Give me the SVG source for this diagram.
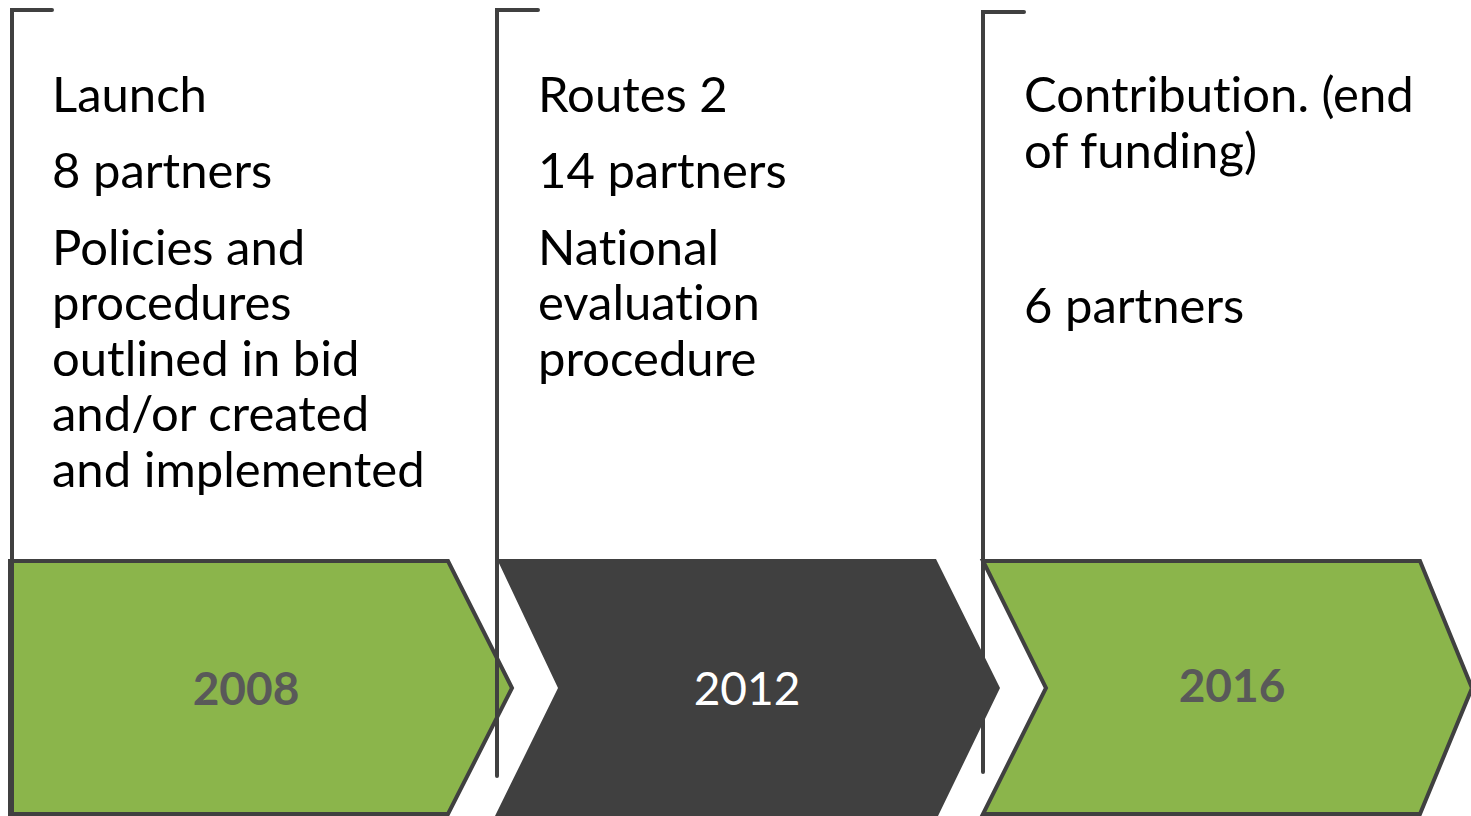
<svg xmlns="http://www.w3.org/2000/svg" width="1471" height="816" viewBox="0 0 1471 816">
<style>
.t{font-family:Lato,"Liberation Sans",sans-serif;font-size:49px;fill:#000;font-variant-ligatures:none}
.y{font-family:Lato,"Liberation Sans",sans-serif;font-size:46px;text-anchor:middle}
.br{fill:none;stroke:#404040;stroke-width:4;stroke-linecap:round}
.g{fill:#8bb54b;stroke:#404040;stroke-width:4;stroke-linejoin:miter}
</style>
<rect width="1471" height="816" fill="#fff"/>
<g id="step2008">
<polygon class="g" points="10,561 448,561 512,688 448,814 10,814"/>
<text class="y" x="246" y="705" font-weight="bold" fill="#595959">2008</text>
</g>
<g id="step2012">
<polygon fill="#404040" points="497,559 936,559 1000,688 938,816 495,816 558,688"/>
<text class="y" x="747" y="705" fill="#fff">2012</text>
</g>
<g id="step2016">
<polygon class="g" points="983,561 1420,561 1472,688 1420,814 983,814 1046,688"/>
<text class="y" x="1232" y="702" font-weight="bold" fill="#595959">2016</text>
</g>
<g id="connectors">
<path class="br" d="M52,10 H12 V818"/>
<path class="br" d="M538,10 H497 V776"/>
<path class="br" d="M1024,12 H983 V772"/>
</g>
<g id="text2008">
<text class="t" x="52" y="112">Launch</text>
<text class="t" x="52" y="188">8 partners</text>
<text class="t" x="52" y="265">Policies and</text>
<text class="t" x="52" y="320">procedures</text>
<text class="t" x="52" y="376">outlined in bid</text>
<text class="t" x="52" y="431">and/or created</text>
<text class="t" x="52" y="487">and implemented</text>
</g>
<g id="text2012">
<text class="t" x="538" y="112">Routes 2</text>
<text class="t" x="538" y="188">14 partners</text>
<text class="t" x="538" y="265">National</text>
<text class="t" x="538" y="320">evaluation</text>
<text class="t" x="538" y="376">procedure</text>
</g>
<g id="text2016">
<text class="t" x="1024" y="112">Contribution. (end</text>
<text class="t" x="1024" y="168">of funding)</text>
<text class="t" x="1024" y="323">6 partners</text>
</g>
</svg>
